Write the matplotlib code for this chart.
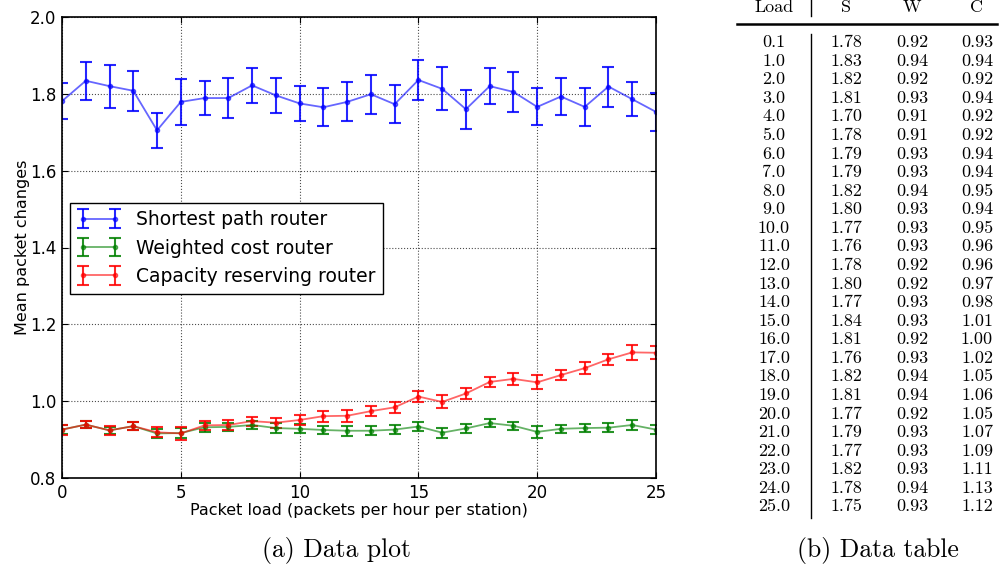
import numpy as np
import matplotlib
matplotlib.use("Agg")
import matplotlib.pyplot as plt

load = [0.1, 1, 2, 3, 4, 5, 6, 7, 8, 9, 10, 11, 12, 13, 14, 15, 16, 17, 18, 19, 20, 21, 22, 23, 24, 25]
shortest = [1.781, 1.834, 1.820, 1.808, 1.705, 1.779, 1.789, 1.789, 1.822, 1.796, 1.775, 1.765, 1.779,
            1.799, 1.773, 1.836, 1.813, 1.760, 1.820, 1.805, 1.766, 1.793, 1.766, 1.819, 1.786, 1.753]
shortest_err = [0.046, 0.050, 0.056, 0.052, 0.045, 0.060, 0.044, 0.052, 0.046, 0.046, 0.045, 0.049, 0.051,
                0.051, 0.050, 0.051, 0.056, 0.051, 0.047, 0.052, 0.048, 0.049, 0.050, 0.052, 0.045, 0.049]
weighted = [0.926, 0.939, 0.924, 0.935, 0.916, 0.917, 0.932, 0.933, 0.938, 0.930, 0.928, 0.925, 0.923,
            0.923, 0.926, 0.934, 0.918, 0.929, 0.943, 0.936, 0.920, 0.928, 0.930, 0.931, 0.938, 0.926]
weighted_err = [0.011, 0.009, 0.010, 0.010, 0.012, 0.013, 0.011, 0.011, 0.010, 0.012, 0.012, 0.011, 0.013,
                0.012, 0.011, 0.011, 0.013, 0.011, 0.010, 0.011, 0.015, 0.011, 0.011, 0.011, 0.012, 0.012]
capacity = [0.926, 0.939, 0.924, 0.935, 0.919, 0.916, 0.937, 0.938, 0.948, 0.944, 0.951, 0.961, 0.962,
            0.974, 0.984, 1.012, 0.998, 1.020, 1.050, 1.058, 1.049, 1.068, 1.086, 1.109, 1.127, 1.126]
capacity_err = [0.013, 0.010, 0.012, 0.011, 0.013, 0.016, 0.012, 0.012, 0.012, 0.013, 0.014, 0.014, 0.015,
                0.013, 0.014, 0.014, 0.017, 0.014, 0.014, 0.016, 0.018, 0.014, 0.015, 0.014, 0.019, 0.017]

# table values
tab_load = ["0.1", "1.0", "2.0", "3.0", "4.0", "5.0", "6.0", "7.0", "8.0", "9.0", "10.0", "11.0", "12.0",
            "13.0", "14.0", "15.0", "16.0", "17.0", "18.0", "19.0", "20.0", "21.0", "22.0", "23.0", "24.0", "25.0"]
tab_s = ["1.78", "1.83", "1.82", "1.81", "1.70", "1.78", "1.79", "1.79", "1.82", "1.80", "1.77", "1.76", "1.78",
         "1.80", "1.77", "1.84", "1.81", "1.76", "1.82", "1.81", "1.77", "1.79", "1.77", "1.82", "1.78", "1.75"]
tab_w = ["0.92", "0.94", "0.92", "0.93", "0.91", "0.91", "0.93", "0.93", "0.94", "0.93", "0.93", "0.93", "0.92",
         "0.92", "0.93", "0.93", "0.92", "0.93", "0.94", "0.94", "0.92", "0.93", "0.93", "0.93", "0.94", "0.93"]
tab_c = ["0.93", "0.94", "0.92", "0.94", "0.92", "0.92", "0.94", "0.94", "0.95", "0.94", "0.95", "0.96", "0.96",
         "0.97", "0.98", "1.01", "1.00", "1.02", "1.05", "1.06", "1.05", "1.07", "1.09", "1.11", "1.13", "1.12"]

W, H = 1003, 568
fig = plt.figure(figsize=(W / 100, H / 100), dpi=100)

# plot panel
ax = fig.add_axes([62 / W, 1 - 478 / H, (656 - 62) / W, (478 - 17) / H])
x = np.array(load)
x[0] = 0.0  # first run is drawn at the origin
series = [
    (shortest, shortest_err, "b", "Shortest path router"),
    (weighted, weighted_err, "g", "Weighted cost router"),
    (capacity, capacity_err, "r", "Capacity reserving router"),
]
for y, e, c, lab in series:
    cont = ax.errorbar(x, y, yerr=e, color=c, fmt=".-", lw=1.3, ms=6,
                       ecolor=c, elinewidth=1.5, capsize=4, capthick=1.5, label=lab)
    cont[0].set_alpha(0.6)
    for cap in cont[1]:
        cap.set_alpha(0.85)
    for bl in cont[2]:
        bl.set_alpha(0.85)

ax.set_xlim(0, 25)
ax.set_ylim(0.8, 2.0)
ax.set_xticks([0, 5, 10, 15, 20, 25])
ax.set_yticks([0.8, 1.0, 1.2, 1.4, 1.6, 1.8, 2.0])
ax.tick_params(direction="in", top=True, right=True, labelsize=12, length=4, pad=4)
ax.grid(True, color="k", linestyle=":", lw=0.8, alpha=0.7)
for s in ax.spines.values():
    s.set_linewidth(1.2)
ax.set_xlabel("Packet load (packets per hour per station)", fontsize=11.5, labelpad=1)
ax.set_ylabel("Mean packet changes", fontsize=11.5, labelpad=0)
leg = ax.legend(loc="upper left", bbox_to_anchor=(0.0135, 0.597), numpoints=2, fontsize=13.5,
                fancybox=False, framealpha=1, borderaxespad=0, handlelength=2.3)
leg.get_frame().set_edgecolor("k")
leg.get_frame().set_linewidth(1.0)

# table panel
serif = "cmr10"
tsize = 13
col_x = [774, 846, 912, 977]
for cx, h in zip(col_x, ["Load", "S", "W", "C"]):
    fig.text(cx / W, 1 - 7 / H, h, ha="center", va="center", family=serif, fontsize=tsize)
fig.add_artist(plt.Line2D([737 / W, 997 / W], [1 - 24 / H, 1 - 24 / H], color="k", lw=1.8))
fig.add_artist(plt.Line2D([811 / W, 811 / W], [1 - 0 / H, 1 - 16 / H], color="k", lw=1.0))
fig.add_artist(plt.Line2D([811 / W, 811 / W], [1 - 34 / H, 1 - 518 / H], color="k", lw=1.0))
row_y0, row_dy = 42.5, 18.57
for i in range(len(tab_load)):
    yy = 1 - (row_y0 + i * row_dy) / H
    for cx, val in zip(col_x, [tab_load[i], tab_s[i], tab_w[i], tab_c[i]]):
        fig.text(cx / W, yy, val, ha="center", va="center", family=serif, fontsize=tsize)

# captions
fig.text(337 / W, 1 - 550 / H, "(a) Data plot", ha="center", va="center", family=serif, fontsize=18.5)
fig.text(878 / W, 1 - 550 / H, "(b) Data table", ha="center", va="center", family=serif, fontsize=18.5)

fig.savefig("out.png", dpi=100)
